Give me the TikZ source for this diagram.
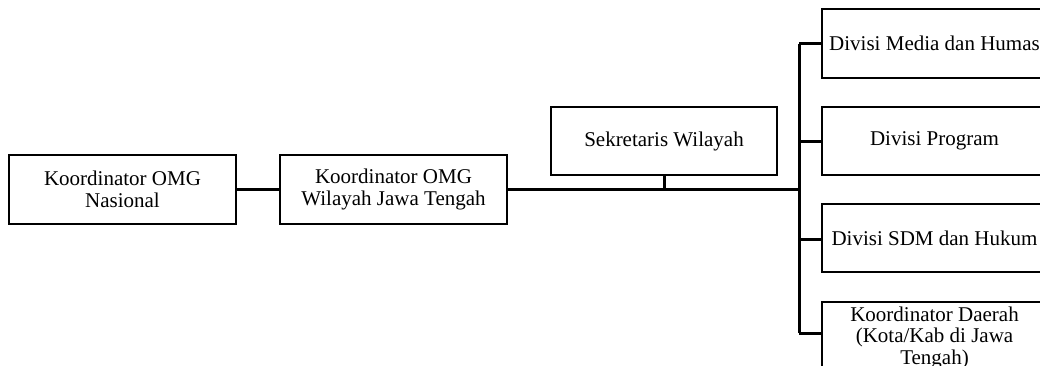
\documentclass[tikz,border=0pt]{standalone}
\usepackage{fontspec}
\setmainfont{Liberation Serif}
\begin{document}
\begin{tikzpicture}[x=1pt,y=-1pt,
  box/.style={draw, line width=2.5pt, rectangle, minimum width=227pt, minimum height=69pt, align=center, inner sep=0pt, font=\fontsize{21}{21.5}\selectfont},
  rbox/.style={box, minimum width=225pt},
  txt/.style={align=center, inner sep=0pt, font=\fontsize{21}{21.5}\selectfont},
  conn/.style={line width=3pt}]
\clip (0,0) rectangle (1040,365);
\fill[white] (0,0) rectangle (1040,365);
\node[box] (nas) at (122.5,189.5) {Koordinator OMG\\Nasional};
\node[box] (wil) at (393.5,189.5) {Koordinator OMG\\Wilayah Jawa Tengah};
\node[box, minimum width=226pt, minimum height=68pt] (sek) at (664,141) {Sekretaris Wilayah};
\node[rbox] (media) at (934.5,43.5) {Divisi Media dan Humas};
\node[rbox, minimum height=68pt] (prog) at (934.5,141) {Divisi Program};
\node[rbox, minimum height=68pt] (sdm) at (934.5,238) {Divisi SDM dan Hukum};
\node[rbox] (dae) at (934.5,336.5) {};
\node[txt] (daet) at (934.5,337.5) {Koordinator Daerah\\(Kota/Kab di Jawa\\Tengah)};
\coordinate (tA) at (799,43.5);
\coordinate (tB) at (799,141);
\coordinate (tC) at (799,239);
\coordinate (tD) at (799,333);
\draw[conn] (nas.east) -- (wil.west);
\draw[conn] (wil.east) -- (wil.east -| tA);
\draw[conn] (sek.south) -- (sek.south |- wil.east);
\draw[conn] (tA) -- (tD);
\draw[conn] (tA) -- (media.west);
\draw[conn] (tB) -- (prog.west);
\draw[conn] (tC) -- (tC -| sdm.west);
\draw[conn] (tD) -- (tD -| dae.west);
\end{tikzpicture}
\end{document}
